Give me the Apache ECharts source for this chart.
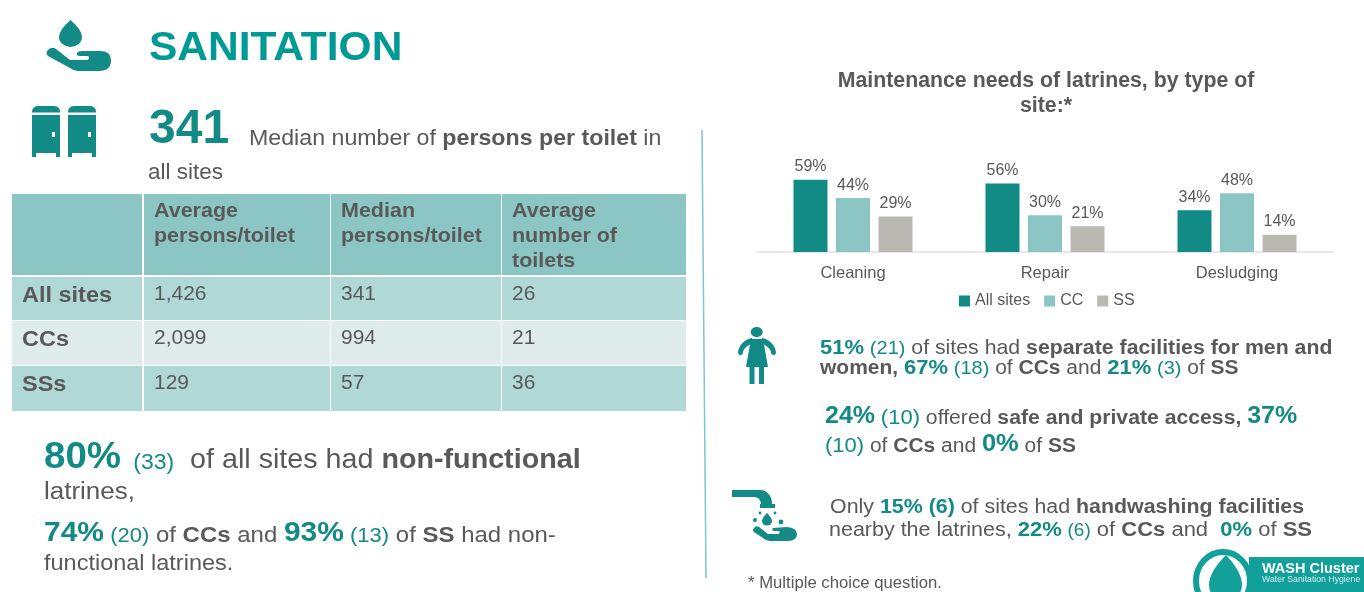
<!DOCTYPE html>
<html lang="en">
<head>
    <meta charset="UTF-8">
    <title>Sanitation</title>
    <script type="text/javascript" src="https://cdn.jsdelivr.net/npm/echarts@6/dist/echarts.min.js"></script>
    <style>
        html, body { margin: 0; padding: 0; background: #fff; }
    </style>
</head>
<body>
    <div id="main" style="width: 1364px;height:592px;"></div>
    <script type="text/javascript">
        // chart data
        var categories = ['Cleaning', 'Repair', 'Desludging'];
        var allSites = [59, 56, 34];
        var cc = [44, 30, 48];
        var ss = [29, 21, 14];

        // table data
        var tableHead = [['Average', 'persons/toilet'], ['Median', 'persons/toilet'], ['Average', 'number of', 'toilets']];
        var rowNames = ['All sites', 'CCs', 'SSs'];
        var avgPersons = ['1,426', '2,099', '129'];
        var medianPersons = ['341', '994', '57'];
        var avgToilets = ['26', '21', '36'];

        var FONT = '"Liberation Sans", Arial, sans-serif';
        var GRAY = '#595959';
        var TEAL = '#128a85';
        var measure = document.createElement('canvas').getContext('2d');
        var graphics = [];
        var shapeCount = 0;

        function addRect(x, y, w, h, color) {
            graphics.push({type: 'rect', shape: {x: x, y: y, width: w, height: h}, style: {fill: color}, silent: true});
        }

        // the graphic component has no plain path type, so every icon part is registered as a shape
        function addPath(d, color) {
            var name = 'icon' + (shapeCount++);
            echarts.graphic.registerShape(name, echarts.graphic.extendPath(d, {}));
            graphics.push({type: name, style: {fill: color}, silent: true});
        }

        function addDot(cx, cy, r, color) {
            graphics.push({type: 'circle', shape: {cx: cx, cy: cy, r: r}, style: {fill: color}, silent: true});
        }

        // one line of text made of [text, size, bold, color] pieces, y is the baseline
        // the screenshot is a bit wider than it is tall, stretch says by how much
        function addLine(x, y, parts, stretch) {
            var s = stretch || 1.06;
            parts.forEach(function (p) {
                var size = p[1] / s;
                var font = (p[2] ? 'bold ' : '') + size + 'px ' + FONT;
                graphics.push({
                    type: 'text', x: x, y: y - size * 0.34, scaleX: s, silent: true,
                    style: {text: p[0], font: font, fill: p[3] || GRAY, verticalAlign: 'middle', align: 'left'}
                });
                measure.font = font;
                x += measure.measureText(p[0]).width * s;
            });
        }

        // header
        addLine(149, 63, [['SANITATION', 42.5, true, '#009a96']], 1.03);
        addLine(149, 146, [['341', 48, true, TEAL]], 1.01);
        addLine(249, 146, [['Median number of ', 23.2], ['persons per toilet', 23.2, true], [' in', 23.2]]);
        addLine(148, 180, [['all sites', 22.5]]);

        // table
        var colX = [12, 144, 331, 502];
        var colW = [130, 186, 170, 184];
        var rowY = [277, 321, 366];
        var rowH = [43, 44, 45];
        var rowColor = ['#b0d8d6', '#deedec', '#b0d8d6'];
        colX.forEach(function (x, c) {
            addRect(x, 194, colW[c], 81, '#8cc6c4');
            rowY.forEach(function (y, r) {
                addRect(x, y, colW[c], rowH[r], rowColor[r]);
            });
        });
        tableHead.forEach(function (lines, c) {
            lines.forEach(function (t, i) {
                addLine(colX[c + 1] + 10, 218 + i * 25, [[t, 21.5, true]]);
            });
        });
        rowNames.forEach(function (name, r) {
            addLine(22, rowY[r] + 26, [[name, 23.5, true]]);
            addLine(colX[1] + 10, rowY[r] + 24, [[avgPersons[r], 21]]);
            addLine(colX[2] + 10, rowY[r] + 24, [[medianPersons[r], 21]]);
            addLine(colX[3] + 10, rowY[r] + 24, [[avgToilets[r], 21]]);
        });

        // left notes
        addLine(44, 470, [['80%', 38.5, true, TEAL], ['  ', 22], ['(33)', 23, false, TEAL], ['  of all sites had ', 28.7], ['non-functional', 28.7, true]]);
        addLine(44, 501, [['latrines,', 26]]);
        addLine(44, 543, [['74%', 30, true, TEAL], [' ', 22], ['(20)', 22, false, TEAL], [' of ', 24], ['CCs', 24, true], [' and ', 24], ['93%', 30, true, TEAL], [' ', 22], ['(13)', 22, false, TEAL], [' of ', 24], ['SS', 24, true], [' had non-', 24]]);
        addLine(44, 571, [['functional latrines.', 23.5]]);

        // right notes
        addLine(820, 355, [['51%', 22, true, TEAL], [' ', 21], ['(21)', 20, false, TEAL], [' of sites had ', 21.3], ['separate facilities for men and', 21.3, true]]);
        addLine(820, 375, [['women, ', 21, true], ['67%', 22, true, TEAL], [' ', 21], ['(18)', 20, false, TEAL], [' of ', 21], ['CCs', 21, true], [' and ', 21], ['21%', 22, true, TEAL], [' ', 21], ['(3)', 20, false, TEAL], [' of ', 21], ['SS', 21, true]]);
        addLine(825, 425, [['24%', 25, true, TEAL], [' ', 21], ['(10)', 22, false, TEAL], [' offered ', 21.2], ['safe and private access, ', 21.2, true], ['37%', 25, true, TEAL]]);
        addLine(825, 453, [['(10)', 22, false, TEAL], [' of ', 21], ['CCs', 21, true], [' and ', 21], ['0%', 25.5, true, TEAL], [' of ', 21], ['SS', 21, true]]);
        addLine(830, 514, [['Only ', 21.4], ['15% (6)', 21.4, true, TEAL], [' of sites had ', 21.4], ['handwashing facilities', 21.4, true]]);
        addLine(829, 537, [['nearby the latrines, ', 21.5], ['22%', 22, true, TEAL], [' ', 21], ['(6)', 19, false, TEAL], [' of ', 22], ['CCs', 22, true], [' and  ', 22], ['0%', 22, true, TEAL], [' of ', 22], ['SS', 22, true]]);
        addLine(748, 589, [['* Multiple choice question.', 16.7]]);

        // divider
        graphics.push({type: 'line', shape: {x1: 702, y1: 130, x2: 706, y2: 578}, style: {stroke: '#7cc8cb', lineWidth: 1.5}, silent: true});

        // drop + hand
        addPath('M70.5 20 Q82 30 82 37 A11.5 10 0 0 1 59 37 Q59 30 70.5 20Z', TEAL);
        addPath('M48 50 Q52 46 56 49 L70 60 L88 60 Q90 57 88 56 L80 56 Q76 56 77 53 Q78 51 82 51 L100 51 Q111 51 111 60 Q111 71 99 71 L78 71 Q74 71 70 68 L48 56 Q45 53 48 50Z', TEAL);
        // toilets
        [32, 68].forEach(function (x) {
            addPath('M' + x + ' 112.5 Q' + x + ' 106 ' + (x + 6) + ' 106 L' + (x + 22) + ' 106 Q' + (x + 28) + ' 106 ' + (x + 28) + ' 112.5Z', TEAL);
            addRect(x, 115, 28, 38, TEAL);
            addRect(x, 153, 4, 4, TEAL);
            addRect(x + 24, 153, 4, 4, TEAL);
            addRect(x + 20, 132, 3, 5, '#fff');
        });
        // person
        graphics.push({type: 'ellipse', shape: {cx: 756.7, cy: 332, rx: 6, ry: 5}, style: {fill: TEAL}, silent: true});
        addPath('M751 339 L763 339 L768 367 L746 367Z', TEAL);
        addPath('M752 338 C745 339 739 345 738 352 Q738 355 740.5 355 Q743 355 743 352 C744 348 748 345 752 344Z', TEAL);
        addPath('M762 338 C769 339 775 345 776 352 Q776 355 773.5 355 Q771 355 771 352 C770 348 766 345 762 344Z', TEAL);
        addRect(749.5, 366, 5, 18, TEAL);
        addRect(759, 366, 5, 18, TEAL);
        // tap + hand
        addPath('M732 490 L760 490 C767 490 772 496 772 503 L772 504 L775 504 L775 508 L760 508 L760 504 L761 504 C761 500 758 497 754 497 L732 497Z', TEAL);
        addPath('M767 513 Q772 518 772 521 A5 4.5 0 0 1 762 521 Q762 518 767 513Z', TEAL);
        addDot(755, 520, 2, TEAL);
        addDot(781, 522, 2.4, TEAL);
        addDot(760, 513, 1.4, TEAL);
        addDot(775, 513, 1.4, TEAL);
        addPath('M754 528 Q756 525 759 527 L768 534 L778 534 Q781 533 779 531 L774 531 Q771 530 773 528 L787 527 Q797 528 797 534 Q797 541 788 541 L770 541 Q766 541 763 538 L754 532 Q752 530 754 528Z', TEAL);

        // logo
        addRect(1249, 557, 115, 35, '#12a09a');
        graphics.push({type: 'ellipse', shape: {cx: 1223, cy: 581, rx: 27, ry: 29}, style: {fill: '#fff', stroke: '#12a09a', lineWidth: 6}, silent: true});
        addPath('M1226 555 Q1242 572 1242 585 A16.5 16 0 0 1 1209 585 Q1209 572 1226 555Z', '#12a09a');
        addLine(1262, 574, [['WASH Cluster', 14.5, true, '#fff']], 1.01);
        addLine(1262, 583, [['Water Sanitation Hygiene', 8.7, false, '#d5eeee']], 1.01);

        var myChart = echarts.init(document.getElementById('main'));

        var labelStyle = {
            show: true,
            position: 'top',
            distance: 5,
            formatter: '{c}%',
            color: GRAY,
            fontFamily: FONT,
            fontSize: 16
        };

        var option = {
            backgroundColor: '#fff',
            animation: false,
            title: {
                text: 'Maintenance needs of latrines, by type of\nsite:*',
                left: 1041,
                top: 64,
                textAlign: 'center',
                textStyle: {color: GRAY, fontFamily: FONT, fontSize: 21.3, fontWeight: 'bold', lineHeight: 25}
            },
            legend: {
                left: 954,
                top: 288,
                icon: 'rect',
                itemWidth: 11,
                itemHeight: 11,
                itemGap: 14,
                textStyle: {color: GRAY, fontFamily: FONT, fontSize: 16},
                data: ['All sites', 'CC', 'SS']
            },
            grid: {left: 757, top: 154, width: 576, height: 98},
            xAxis: {
                type: 'category',
                data: categories,
                axisTick: {show: false},
                axisLine: {lineStyle: {color: '#e2e2e2', width: 1.5}},
                axisLabel: {color: GRAY, fontFamily: FONT, fontSize: 16.5, margin: 13}
            },
            yAxis: {type: 'value', min: 0, max: 80, show: false},
            series: [
                {name: 'All sites', type: 'bar', data: allSites, barWidth: 34, barGap: '25%', itemStyle: {color: TEAL}, label: labelStyle},
                {name: 'CC', type: 'bar', data: cc, barWidth: 34, itemStyle: {color: '#8cc6c4'}, label: labelStyle},
                {name: 'SS', type: 'bar', data: ss, barWidth: 34, itemStyle: {color: '#b9b9b1'}, label: labelStyle}
            ],
            graphic: graphics
        };

        myChart.setOption(option);
    </script>
</body>
</html>
